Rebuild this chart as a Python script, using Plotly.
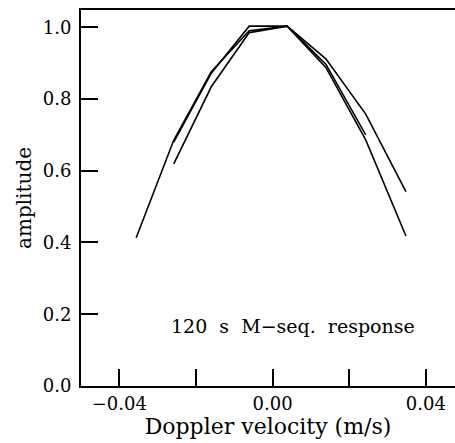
import plotly.graph_objects as go

# Doppler velocity sample positions (m/s)
vel = [-0.0356, -0.0258, -0.0160, -0.0061, 0.0038, 0.0139, 0.0243, 0.0348]

# three response curves (None = not measured)
amp_1 = [0.413, 0.685, 0.876, 0.990, 1.003, 0.888, 0.686, 0.418]
amp_2 = [None, 0.680, 0.872, 1.003, 1.003, 0.897, 0.700, None]
amp_3 = [None, 0.619, 0.834, 0.985, 1.003, 0.912, 0.758, 0.542]

x_ticks = [-0.04, -0.02, 0.0, 0.02, 0.04]
x_ticklabels = ["\u22120.04", "", "0.00", "", "0.04"]
y_ticks = [0.0, 0.2, 0.4, 0.6, 0.8, 1.0]
y_ticklabels = ["0.0", "0.2", "0.4", "0.6", "0.8", "1.0"]

FONT = "DejaVu Serif"

fig = go.Figure()
for amps in (amp_1, amp_2, amp_3):
    xs = [v for v, a in zip(vel, amps) if a is not None]
    ys = [a for a in amps if a is not None]
    fig.add_trace(go.Scatter(x=xs, y=ys, mode="lines",
                             line=dict(color="black", width=1.6),
                             showlegend=False, hoverinfo="skip"))

fig.add_annotation(x=0.0053, y=0.167, xref="x", yref="y",
                   text="120  s  M\u2212seq.  response", showarrow=False,
                   font=dict(family=FONT, size=19, color="black"))

fig.update_layout(
    width=455, height=443,
    margin=dict(l=81, r=0, t=10, b=57),
    paper_bgcolor="white", plot_bgcolor="white",
    font=dict(family=FONT, size=18, color="black"),
)
fig.update_xaxes(range=[-0.05, 0.0476], tickmode="array",
                 tickvals=x_ticks, ticktext=x_ticklabels,
                 ticks="inside", ticklen=17, tickwidth=2, tickcolor="black",
                 tickfont=dict(family=FONT, size=18),
                 showline=True, linecolor="black", linewidth=2, mirror=True,
                 showgrid=False, zeroline=False,
                 title=dict(text="Doppler velocity (m/s)", standoff=6,
                            font=dict(family=FONT, size=22)))
fig.update_yaxes(range=[0, 1.048], tickmode="array",
                 tickvals=y_ticks, ticktext=y_ticklabels,
                 ticks="inside", ticklen=17, tickwidth=2, tickcolor="black",
                 tickfont=dict(family=FONT, size=18), ticklabelstandoff=4,
                 showline=True, linecolor="black", linewidth=2,
                 showgrid=False, zeroline=False,
                 title=dict(text="amplitude", standoff=6,
                            font=dict(family=FONT, size=20)))

fig.write_html("out.html")
